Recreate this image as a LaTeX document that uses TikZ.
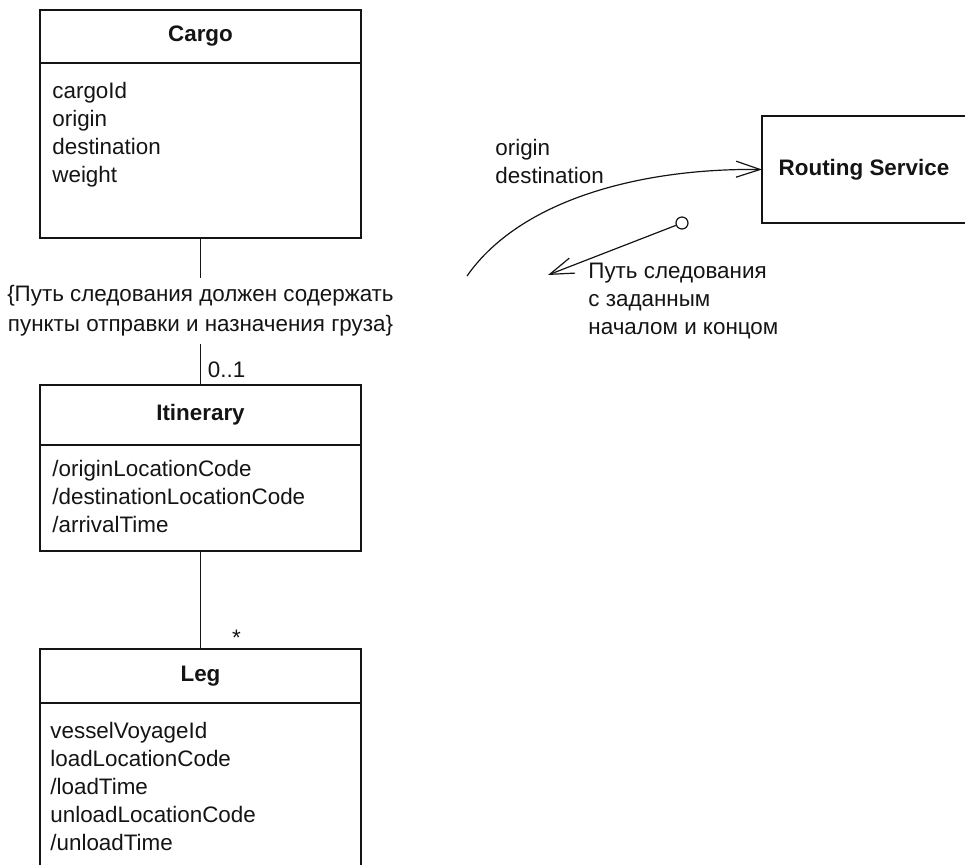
\documentclass[tikz,border=0pt]{standalone}
\usepackage{fontspec}
\setmainfont{Liberation Sans}
\usetikzlibrary{
    arrows.meta,
    positioning
}
\definecolor{ink}{RGB}{20,20,20}
\newcommand\umlfont{\fontsize{11.2}{14}\selectfont}
\tikzset{
    classhead/.style={
        rectangle,
        draw=ink,
        line width=0.8pt,
        minimum width=160.5pt,
        inner sep=0pt,
        outer sep=0pt,
        anchor=north,
        font=\umlfont\bfseries,
        text=ink
    },
    classbody/.style={
        rectangle,
        draw=ink,
        line width=0.8pt,
        minimum width=160.5pt,
        inner sep=0pt,
        outer sep=0pt
    },
    attrs/.style={
        align=left,
        anchor=north west,
        inner sep=0pt,
        font=\umlfont,
        text=ink
    },
    service/.style={
        rectangle,
        draw=ink,
        line width=0.8pt,
        minimum width=102pt,
        minimum height=53.5pt,
        outer sep=0pt,
        font=\umlfont\bfseries,
        text=ink
    },
    annot/.style={
        align=left,
        inner sep=0pt,
        font=\umlfont,
        text=ink
    },
    constraint/.style={
        align=center,
        inner sep=3.5pt,
        font=\fontsize{11.2}{15}\selectfont,
        text=ink
    },
    mult/.style={
        inner sep=0pt,
        font=\umlfont,
        text=ink
    },
    lollipop/.style={
        circle,
        draw=ink,
        fill=white,
        line width=0.6pt,
        minimum size=6pt,
        inner sep=0pt
    },
    assoc/.style={
        draw=ink,
        line width=0.7pt
    },
    call/.style={
        -{Straight Barb[length=12pt,width=8pt]},
        draw=ink,
        line width=0.6pt
    }
}

\begin{document}
\begin{tikzpicture}[x=0.5pt, y=-0.5pt]
\useasboundingbox (0,0) rectangle (965,864);

% Cargo
\node[classhead, minimum height=26.5pt] (cargo) at (200.5,10) {Cargo};
\node[classbody, minimum height=87.5pt, below=0pt of cargo] (cargo body) {};
\node[attrs, below right=9.5pt and 6pt of cargo body.north west] (cargo attrs)
    {cargoId\\origin\\destination\\weight};

% Constraint on the association
\node[constraint] (rule) at (200.5,311)
    {\{Путь следования должен содержать\\пункты отправки и назначения груза\}};

% Itinerary
\node[classhead, minimum height=30pt] (itinerary) at (200.5,385) {Itinerary};
\node[classbody, minimum height=53pt, below=0pt of itinerary] (itinerary body) {};
\node[attrs, below right=7.5pt and 6pt of itinerary body.north west] (itinerary attrs)
    {/originLocationCode\\/destinationLocationCode\\/arrivalTime};

% Leg (cut off at the bottom)
\node[classhead, minimum height=27pt] (leg) at (200.5,649) {Leg};
\node[classbody, minimum height=100pt, below=0pt of leg] (leg body) {};
\node[attrs, below right=9.5pt and 5pt of leg body.north west] (leg attrs)
    {vesselVoyageId\\loadLocationCode\\/loadTime\\unloadLocationCode\\/unloadTime};

% Associations
\draw[assoc] (cargo body.south) -- (rule.north);
\draw[assoc] (rule.south) -- (itinerary.north);
\draw[assoc] (itinerary body.south) -- (leg.north);
\node[mult, anchor=base west] (itin mult) at ([xshift=3.5pt, yshift=4pt]itinerary.north) {0..1};
\node[mult, anchor=base] (leg mult) at ([xshift=18pt, yshift=2pt]leg.north) {*};

% Routing Service (right side cut off)
\node[service] (routing) at (864,169.5) {Routing Service};
\coordinate (call start) at (467,276);
\draw[call] (call start) .. controls (520,200) and (640,168) .. (routing.west);
\node[annot, anchor=north west] (call args) at (495,139) {origin\\destination};

% Returned route
\node[lollipop] (provided) at (682,223) {};
\coordinate (route end) at (548,275);
\draw[call] (provided) -- (route end);
\node[annot, anchor=north west] (route note) at (588,263)
    {Путь следования\\с заданным\\началом и концом};
\end{tikzpicture}
\end{document}
